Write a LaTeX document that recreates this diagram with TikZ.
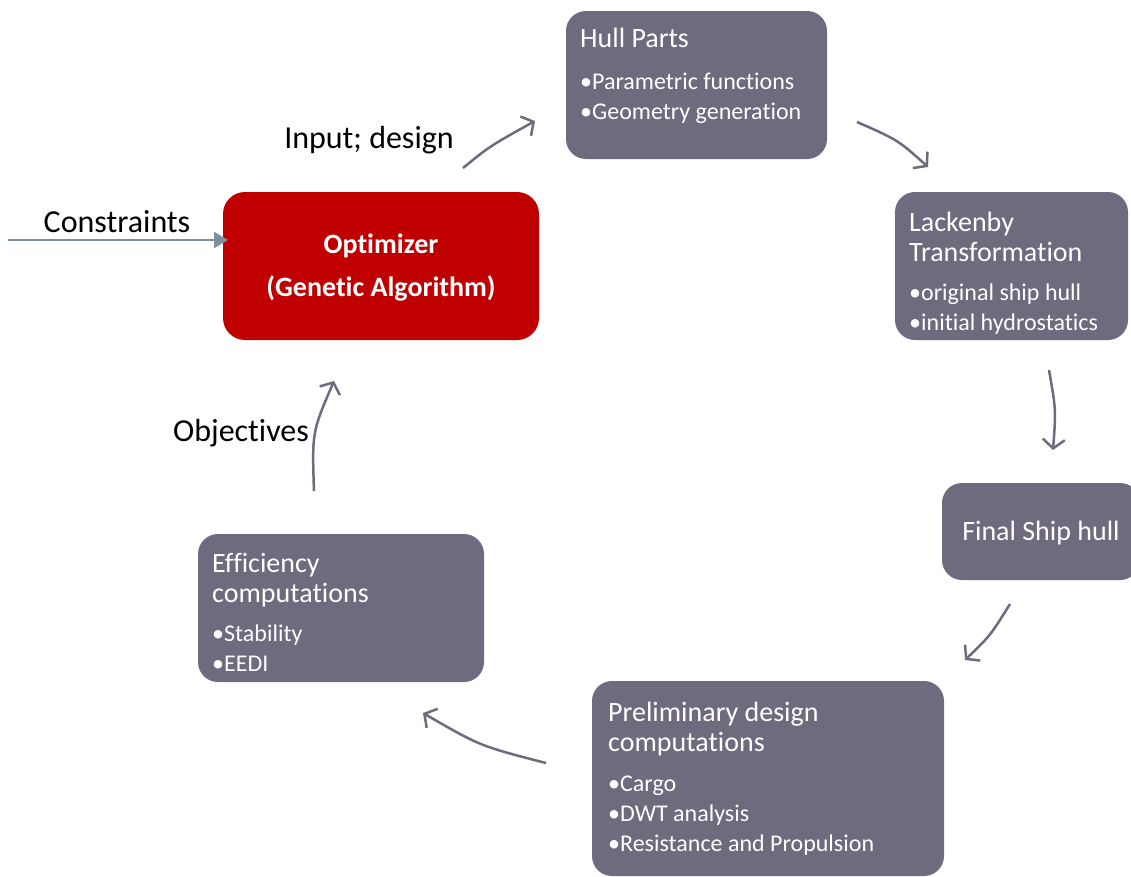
\documentclass[tikz,border=0pt]{standalone}
\usepackage{fontspec}
\setmainfont{Carlito}[Ligatures={NoCommon}]
\usetikzlibrary{arrows.meta}
\definecolor{boxgray}{RGB}{111,106,125}
\definecolor{optred}{RGB}{192,0,0}
\definecolor{consgray}{RGB}{128,141,155}
\tikzset{
  graybox/.style={fill=boxgray, draw=none, rounded corners=20pt, inner sep=0pt},
  redbox/.style={fill=optred, draw=none, rounded corners=22pt, inner sep=0pt},
  ttl/.style={anchor=base west, inner sep=0pt, text=white, font=\fontsize{28}{30}\selectfont},
  bul/.style={anchor=base west, inner sep=0pt, text=white, font=\fontsize{24}{28}\selectfont},
  lbl/.style={anchor=base, inner sep=0pt, text=black, font=\fontsize{32}{36}\selectfont},
  opt/.style={anchor=base, inner sep=0pt, text=white, font=\bfseries\fontsize{28}{30}\selectfont},
  cyc/.style={draw=boxgray, line width=2.5pt, -{Straight Barb[length=9pt,width=22pt,line width=2.5pt]}},
}
\begin{document}
\begin{tikzpicture}[x=1pt,y=-1pt]
\path[use as bounding box] (0,0) rectangle (1131,876);
% boxes
\node[redbox, minimum width=316pt, minimum height=148pt] (opt) at (381,266) {};
\node[graybox, minimum width=261pt, minimum height=148pt] (hull) at (696.5,85) {};
\node[graybox, minimum width=233pt, minimum height=148pt] (lack) at (1011.5,266) {};
\node[graybox, minimum width=198pt, minimum height=97pt] (final) at (1041,531.5) {};
\node[graybox, minimum width=352pt, minimum height=195pt] (prel) at (768,778.5) {};
\node[graybox, minimum width=286pt, minimum height=148pt] (eff) at (341,608) {};
% texts
\node[opt] (opt1) at (381,253) {Optimizer};
\node[opt] (opt2) at (381,296) {(Genetic Algorithm)};
\node[ttl] (hull1) at (580,47) {Hull Parts};
\node[bul] (hull2) at (580,89) {•Parametric functions};
\node[bul] (hull3) at (580,119) {•Geometry generation};
\node[ttl] (lack1) at (909,231) {Lackenby};
\node[ttl] (lack2) at (909,261) {Transformation};
\node[bul] (lack3) at (909,300) {•original ship hull};
\node[bul] (lack4) at (909,330) {•initial hydrostatics};
\node[ttl, anchor=base] (final1) at (1041,540) {Final Ship hull};
\node[ttl] (prel1) at (608,721) {Preliminary design};
\node[ttl] (prel2) at (608,751) {computations};
\node[bul] (prel3) at (608,791) {•Cargo};
\node[bul] (prel4) at (608,821) {•DWT analysis};
\node[bul] (prel5) at (608,851) {•Resistance and Propulsion};
\node[ttl] (eff1) at (212,572) {Efficiency};
\node[ttl] (eff2) at (212,602) {computations};
\node[bul] (eff3) at (212,641) {•Stability};
\node[bul] (eff4) at (212,671) {•EEDI};
% labels
\node[lbl] (lcons) at (117,232) {Constraints};
\node[lbl] (linput) at (369,148) {Input; design};
\node[lbl] (lobj) at (241,441) {Objectives};
% connector ends
\coordinate (cs) at (8,240);
\coordinate (ce) at (228,240);
\coordinate (a1s) at (463,168); \coordinate (a1e) at (535,121);
\coordinate (a2s) at (857,122); \coordinate (a2e) at (928,167);
\coordinate (a3s) at (1049,370); \coordinate (a3e) at (1053,450);
\coordinate (a4s) at (1010,604); \coordinate (a4e) at (965,660);
\coordinate (a5s) at (546,763); \coordinate (a5e) at (423,713);
\coordinate (a6s) at (314,491); \coordinate (a6e) at (334,381);
% connectors
\draw[draw=consgray, line width=2pt, -{Triangle[length=14pt,width=16pt]}] (cs) -- (ce);
\draw[cyc] (a1s) .. controls (490,146) .. (a1e);
\draw[cyc] (a2s) .. controls (898,140) .. (a2e);
\draw[cyc] (a3s) .. controls (1056,410) .. (a3e);
\draw[cyc] (a4s) .. controls (990,636) .. (a4e);
\draw[cyc] (a5s) .. controls (480,746) .. (a5e);
\draw[cyc] (a6s) .. controls (312,432) .. (a6e);
\end{tikzpicture}
\end{document}
